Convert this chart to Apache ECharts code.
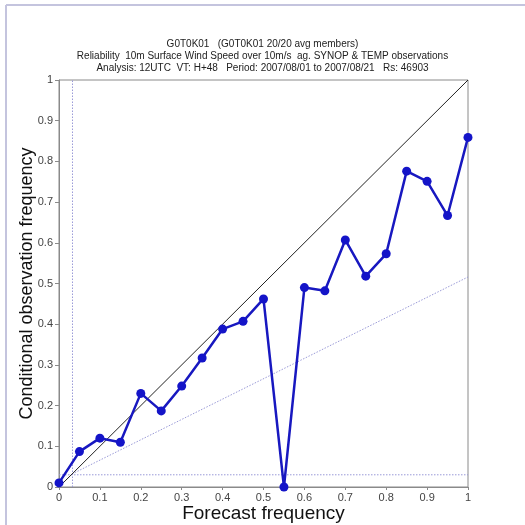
<!DOCTYPE html>
<html><head><meta charset="utf-8">
<script src="https://cdn.jsdelivr.net/npm/echarts@6/dist/echarts.min.js"></script>
<style>html,body{margin:0;padding:0;background:#fff}#c{width:525px;height:525px}</style>
</head><body><div id="c"></div>
<script>
const titleLines = [
  'G0T0K01   (G0T0K01 20/20 avg members)',
  'Reliability  10m Surface Wind Speed over 10m/s  ag. SYNOP & TEMP observations',
  'Analysis: 12UTC  VT: H+48   Period: 2007/08/01 to 2007/08/21   Rs: 46903'
];
const forecastProb = [0,0.05,0.1,0.15,0.2,0.25,0.3,0.35,0.4,0.45,0.5,0.55,0.6,0.65,0.7,0.75,0.8,0.85,0.9,0.95,1];
const obsFreq = [0.01,0.087,0.12,0.11,0.23,0.187,0.248,0.317,0.388,0.407,0.462,0.0,0.49,0.482,0.607,0.518,0.573,0.776,0.751,0.667,0.859];
const diagonal = [[0,0],[1,1]];
const noSkill = [[0.032,0.032],[1,0.516]];
const climH = [[0,0.03],[1,0.03]];
const climV = [[0.033,0],[0.033,1]];

const fmt = v => String(+v.toFixed(1));
const chart = echarts.init(document.getElementById('c'));
const dotted = {color:'#9a9ad8', width:1, type:[1.5,1.5]};
chart.setOption({
  animation:false,
  backgroundColor:'#fff',
  title:{
    text: titleLines.join('\n'), left:'center', top:33,
    textStyle:{fontFamily:'Liberation Sans, Arial, sans-serif', fontSize:10, fontWeight:'normal', color:'#222', lineHeight:12}
  },
  graphic:[
    {type:'line', shape:{x1:6,y1:5,x2:525,y2:5}, style:{stroke:'#c4c4de', lineWidth:2}},
    {type:'line', shape:{x1:6,y1:5,x2:6,y2:525}, style:{stroke:'#c4c4de', lineWidth:2}}
  ],
  grid:{left:59, right:57, top:80, bottom:38, show:true, borderColor:'#8a8a8a', borderWidth:1,
    containLabel:false, outerBoundsMode:'none'},
  xAxis:{type:'value', min:0, max:1, interval:0.1,
    name:'Forecast frequency', nameLocation:'middle', nameGap:17, nameMoveOverlap:false,
    nameTextStyle:{fontFamily:'Liberation Sans, Arial, sans-serif', fontSize:19, color:'#111'},
    axisLine:{lineStyle:{color:'#8a8a8a'}}, axisTick:{show:true, length:3, lineStyle:{color:'#8a8a8a'}},
    splitLine:{show:false},
    axisLabel:{formatter:fmt, fontFamily:'Liberation Sans, Arial, sans-serif', fontSize:11, color:'#444', margin:5}
  },
  yAxis:{type:'value', min:0, max:1, interval:0.1,
    name:'Conditional observation frequency', nameLocation:'middle', nameGap:23, nameMoveOverlap:false,
    nameTextStyle:{fontFamily:'Liberation Sans, Arial, sans-serif', fontSize:18, color:'#111'},
    axisLine:{lineStyle:{color:'#8a8a8a'}}, axisTick:{show:true, length:4, lineStyle:{color:'#8a8a8a'}},
    splitLine:{show:false},
    axisLabel:{formatter:fmt, fontFamily:'Liberation Sans, Arial, sans-serif', fontSize:11, color:'#444', margin:6}
  },
  series:[
    {type:'line', data:climH, symbol:'none', lineStyle:dotted, z:1},
    {type:'line', data:climV, symbol:'none', lineStyle:dotted, z:1},
    {type:'line', data:noSkill, symbol:'none', lineStyle:dotted, z:1},
    {type:'line', data:diagonal, symbol:'none', lineStyle:{color:'#222', width:1}, z:2},
    {type:'line', data:forecastProb.map((x,i)=>[x,obsFreq[i]]), symbol:'circle', symbolSize:9,
      itemStyle:{color:'#1414c8'}, lineStyle:{color:'#1818c0', width:2.5}, z:3}
  ]
});
</script></body></html>
